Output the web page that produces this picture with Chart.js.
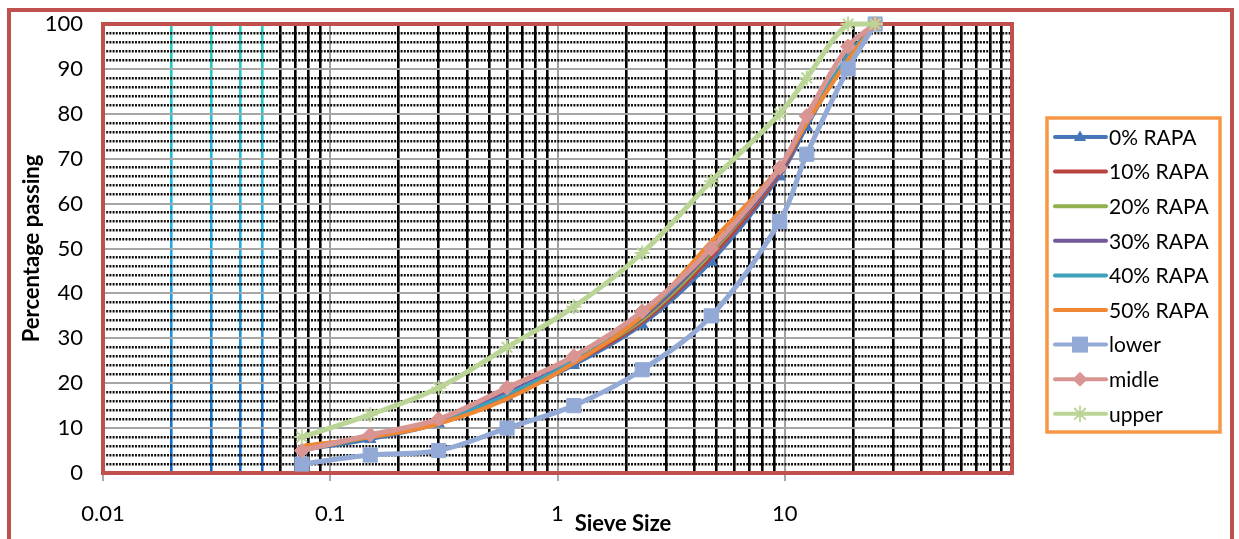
<!DOCTYPE html>
<html>
<head>
<meta charset="utf-8">
<script src="https://cdn.jsdelivr.net/npm/chart.js@4.4.1/dist/chart.umd.min.js"></script>
<style>
  html, body { margin: 0; padding: 0; background: #fff; }
  #wrap { width: 1239px; height: 539px; }
</style>
</head>
<body>
<div id="wrap"><canvas id="gradation"></canvas></div>
<script>
// sieve sizes (mm) and percentage passing
const sieveSizes = [0.075, 0.15, 0.3, 0.6, 1.18, 2.36, 4.75, 9.5, 12.5, 19, 25];
const rapa0  = [5, 7.5, 11, 17, 24, 33, 47, 66, 77, 93, 100];
const rapa10 = [5, 8, 11.5, 17, 24.5, 33.5, 48, 66.5, 78, 92.5, 100];
const rapa20 = [5, 8, 11.5, 17.5, 25, 34, 49, 67, 78.5, 93, 100];
const rapa30 = [5.5, 8, 11.5, 18, 25, 34.5, 49.5, 67, 78.5, 93, 100];
const rapa40 = [5.5, 8, 11.5, 17.5, 25, 35, 50, 67.5, 79, 93, 100];
const rapa50 = [6, 8, 11, 16.5, 24.5, 35, 51.5, 68, 78, 92, 100];
const lower  = [2, 4, 5, 10, 15, 23, 35, 56, 71, 90, 100];
const midle  = [5, 8.5, 12, 19, 26, 36, 50, 68, 79.5, 95, 100];
const upper  = [8, 13, 19, 28, 37, 49, 65, 80, 88, 100, 100];

const seriesNames = ['0% RAPA', '10% RAPA', '20% RAPA', '30% RAPA', '40% RAPA', '50% RAPA', 'lower', 'midle', 'upper'];
const xTickLabels = [0.01, 0.1, 1, 10];
const yTickLabels = [0, 10, 20, 30, 40, 50, 60, 70, 80, 90, 100];

const FONT = 'Lato';
const RED = '#c0504d';

// log grid: 1..9 x each decade between 0.01 and 100
const xGrid = [];
for (let d = -2; d <= 1; d++) {
    for (let k = 1; k <= 9; k++) xGrid.push(+(k * Math.pow(10, d)).toPrecision(3));
}
xGrid.push(100);

function isMajor(v) { return xTickLabels.includes(v) || v === 100; }

let gradCache = null;
function cyanGradient(chart) {
    const a = chart.chartArea;
    if (!a) return '#22b4e6';
    if (gradCache && gradCache.top === a.top && gradCache.bottom === a.bottom) return gradCache.g;
    const g = chart.ctx.createLinearGradient(0, a.top, 0, a.bottom);
    g.addColorStop(0, '#1fd0bc');
    g.addColorStop(0.45, '#22b4e6');
    g.addColorStop(1, '#1064cc');
    gradCache = { top: a.top, bottom: a.bottom, g: g };
    return g;
}

// keep the plot rectangle where the reference has it
function noPad(scale) {
    scale.paddingTop = 0;
    scale.paddingBottom = 0;
    scale.paddingLeft = 0;
    scale.paddingRight = 0;
}

function series(i, values, color, width, style, radius) {
    return {
        label: seriesNames[i],
        data: sieveSizes.map((x, j) => ({ x: x, y: values[j] })),
        borderColor: color,
        backgroundColor: color,
        pointBackgroundColor: color,
        pointBorderColor: color,
        borderWidth: width,
        pointStyle: style || 'circle',
        pointRadius: radius || 0,
        pointHoverRadius: radius || 0,
        pointBorderWidth: style === 'star' ? 2 : 1,
        tension: 0.35,
        clip: false,
        order: 9 - i
    };
}

const datasets = [
    series(0, rapa0, '#4677b8', 3.2, 'triangle', 6.5),
    series(1, rapa10, '#b8433f', 3.2),
    series(2, rapa20, '#8fb04c', 3.2),
    series(3, rapa30, '#735799', 3.2),
    series(4, rapa40, '#3fa0bb', 3.2),
    series(5, rapa50, '#ef8734', 4.2),
    series(6, lower, '#93aad7', 5, 'rect', 10),
    series(7, midle, '#d99592', 5, 'rectRot', 7.5),
    series(8, upper, '#bad596', 5, 'star', 7.5)
];

// frame, plot border, axis title and boxed legend
const framePlugin = {
    id: 'frame',
    beforeDraw(chart) {
        const ctx = chart.ctx;
        ctx.save();
        ctx.fillStyle = '#fff';
        ctx.fillRect(0, 0, chart.width, chart.height);
        ctx.strokeStyle = RED;
        ctx.lineWidth = 4;
        ctx.strokeRect(9, 10, 1223, 600);
        ctx.restore();
    },
    beforeDatasetsDraw(chart) {
        const a = chart.chartArea;
        const ctx = chart.ctx;
        ctx.save();
        ctx.strokeStyle = RED;
        ctx.lineWidth = 4;
        ctx.strokeRect(a.left, a.top, a.right - a.left, a.bottom - a.top);
        ctx.restore();
    },
    afterDraw(chart) {
        const ctx = chart.ctx;
        ctx.save();
        ctx.fillStyle = '#000';
        ctx.font = 'bold 22px ' + FONT;
        ctx.textAlign = 'center';
        ctx.textBaseline = 'middle';
        ctx.fillText('Sieve Size', 623, 524);

        // legend box
        const bx = 1047, by = 118, bw = 173, bh = 314, step = 34.6;
        ctx.strokeStyle = '#f79646';
        ctx.lineWidth = 3.5;
        ctx.strokeRect(bx, by, bw, bh);
        ctx.font = '21px ' + FONT;
        ctx.textAlign = 'left';
        chart.data.datasets.forEach((ds, i) => {
            const y = 137 + i * step;
            ctx.strokeStyle = ds.borderColor;
            ctx.lineWidth = 4;
            ctx.lineCap = 'round';
            ctx.beginPath();
            ctx.moveTo(1055, y);
            ctx.lineTo(1106, y);
            ctx.stroke();
            drawMarker(ctx, ds.pointStyle, ds.pointRadius, 1080, y, ds.borderColor);
            ctx.fillStyle = '#000';
            ctx.fillText(ds.label, 1109, y + 1);
        });
        ctx.restore();
    }
};

function drawMarker(ctx, style, r, x, y, color) {
    if (!r) return;
    ctx.save();
    ctx.fillStyle = color;
    ctx.strokeStyle = color;
    ctx.beginPath();
    if (style === 'triangle') {
        ctx.moveTo(x, y - r);
        ctx.lineTo(x + r * 0.95, y + r * 0.6);
        ctx.lineTo(x - r * 0.95, y + r * 0.6);
        ctx.closePath();
        ctx.fill();
    } else if (style === 'rect') {
        const s = r * 0.8;
        ctx.rect(x - s, y - s, 2 * s, 2 * s);
        ctx.fill();
    } else if (style === 'rectRot') {
        ctx.moveTo(x, y - r);
        ctx.lineTo(x + r, y);
        ctx.lineTo(x, y + r);
        ctx.lineTo(x - r, y);
        ctx.closePath();
        ctx.fill();
    } else if (style === 'star') {
        ctx.lineWidth = 1.8;
        for (let k = 0; k < 4; k++) {
            const a = k * Math.PI / 4;
            ctx.moveTo(x - Math.cos(a) * r, y - Math.sin(a) * r);
            ctx.lineTo(x + Math.cos(a) * r, y + Math.sin(a) * r);
        }
        ctx.stroke();
    }
    ctx.restore();
}

const chart = new Chart(document.getElementById('gradation'), {
    type: 'line',
    data: { datasets: datasets },
    options: {
        responsive: true,
        maintainAspectRatio: false,
        animation: false,
        events: [],
        layout: { padding: { left: 15, top: 24, right: 227, bottom: 0 } },
        plugins: {
            legend: { display: false },
            tooltip: { enabled: false }
        },
        scales: {
            x: {
                type: 'logarithmic',
                min: 0.01,
                max: 100,
                afterBuildTicks(scale) {
                    scale.ticks = xGrid.map(v => ({ value: v, major: isMajor(v) }));
                },
                afterFit(scale) { scale.height = 66; noPad(scale); },
                ticks: {
                    autoSkip: false,
                    maxRotation: 0,
                    padding: 20,
                    color: '#000',
                    font: { family: FONT, size: 22 },
                    callback: (v) => xTickLabels.includes(v) ? String(v) : ''
                },
                grid: {
                    drawTicks: true,
                    tickLength: 8,
                    tickWidth: 1.5,
                    tickColor: (c) => (c.tick && xTickLabels.includes(c.tick.value)) ? '#8c8c8c' : 'rgba(0,0,0,0)',
                    color: (c) => {
                        const v = c.tick ? c.tick.value : 0;
                        if (v === 0.01 || v === 100) return 'rgba(0,0,0,0)';
                        if (isMajor(v)) return '#a0a0a0';
                        if (v >= 0.02 && v <= 0.05) return cyanGradient(c.chart);
                        return '#000';
                    },
                    lineWidth: (c) => (c.tick && isMajor(c.tick.value)) ? 2 : 2.6
                },
                border: { display: false }
            },
            y: {
                type: 'linear',
                min: 0,
                max: 100,
                afterBuildTicks(scale) {
                    scale.ticks = yTickLabels.map(v => ({ value: v }));
                },
                afterFit(scale) { scale.width = 88; noPad(scale); },
                ticks: {
                    padding: 20,
                    color: '#000',
                    font: { family: FONT, size: 22 }
                },
                grid: {
                    drawTicks: false,
                    color: '#a6a6a6',
                    lineWidth: 2
                },
                border: { display: false },
                title: {
                    display: true,
                    text: 'Percentage passing',
                    color: '#000',
                    font: { family: FONT, size: 22, weight: 'bold' },
                    padding: { top: 4, bottom: 4 }
                }
            },
            yMinor: {
                type: 'linear',
                position: 'left',
                min: 0,
                max: 100,
                afterFit(scale) { scale.width = 0; noPad(scale); },
                ticks: { stepSize: 2, display: false },
                grid: {
                    drawTicks: false,
                    color: (c) => (c.tick && c.tick.value % 10 !== 0) ? '#111' : 'rgba(0,0,0,0)',
                    lineWidth: 2.4,
                    borderDash: [2, 1.2]
                },
                border: { display: false, dash: [2, 1.2] }
            }
        }
    },
    plugins: [framePlugin]
});
</script>
</body>
</html>
